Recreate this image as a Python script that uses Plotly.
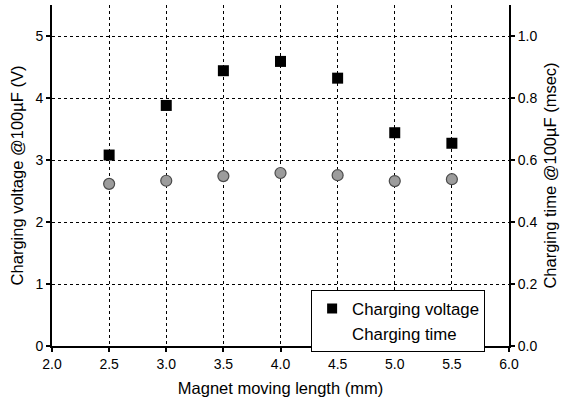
import plotly.graph_objects as go

lengths = [2.5, 3.0, 3.5, 4.0, 4.5, 5.0, 5.5]
voltage = [3.08, 3.88, 4.44, 4.59, 4.32, 3.44, 3.27]
charge_time = [0.523, 0.533, 0.548, 0.558, 0.551, 0.532, 0.538]

x_ticks = [2.0, 2.5, 3.0, 3.5, 4.0, 4.5, 5.0, 5.5, 6.0]
y_ticks = [0, 1, 2, 3, 4, 5]
y2_ticks = [0.0, 0.2, 0.4, 0.6, 0.8, 1.0]

font_family = "Liberation Sans, Arial, sans-serif"

fig = go.Figure()
fig.add_trace(go.Scatter(
    x=lengths, y=voltage, mode="markers", name="Charging voltage",
    marker=dict(symbol="square", size=11, color="black"), showlegend=False))
fig.add_trace(go.Scatter(
    x=lengths, y=charge_time, mode="markers", name="Charging time", yaxis="y2",
    marker=dict(symbol="circle", size=11, color="#9c9c9c",
                line=dict(color="#4a4a4a", width=1.2)), showlegend=False))
# legend entries
fig.add_trace(go.Scatter(x=[None], y=[None], mode="markers", name="Charging voltage",
                         marker=dict(symbol="square", size=10, color="black")))
fig.add_trace(go.Scatter(x=[None], y=[None], mode="markers", name="Charging time",
                         marker=dict(symbol="circle", size=10, color="white", opacity=0)))

axis_common = dict(showline=True, linecolor="black", linewidth=2,
                   ticks="outside", ticklen=4, tickwidth=1.5, tickcolor="black",
                   zeroline=False, automargin=False,
                   tickfont=dict(size=14, color="black"))

grid = dict(showgrid=True, gridcolor="black", griddash="dot", gridwidth=1)

fig.update_layout(
    width=564, height=401,
    margin=dict(l=52, r=55, t=5, b=55),
    paper_bgcolor="white", plot_bgcolor="white",
    font=dict(family=font_family, color="black"),
    xaxis=dict(range=[2.0, 6.0], tickvals=x_ticks, ticktext=[f"{v:.1f}" for v in x_ticks],
               title=dict(text="Magnet moving length (mm)", font=dict(size=16.5), standoff=12),
               **grid, **axis_common),
    yaxis=dict(range=[0, 5.5], tickvals=y_ticks, ticktext=[str(v) for v in y_ticks],
               title=dict(text="Charging voltage @100µF (V)", font=dict(size=16.5), standoff=8),
               **grid, **axis_common),
    yaxis2=dict(range=[0, 1.1], tickvals=y2_ticks, ticktext=[f"{v:.1f}" for v in y2_ticks],
                overlaying="y", side="right", showgrid=False,
                title=dict(text="Charging time @100µF (msec)", font=dict(size=16.5), standoff=8),
                **axis_common),
    legend=dict(x=0.567, y=0.164, xanchor="left", yanchor="top",
                bordercolor="black", borderwidth=1, bgcolor="white",
                font=dict(size=16.8), itemwidth=30, tracegroupgap=0),
)

fig.write_html("out.html", config={"displayModeBar": False},
               post_script="document.body.style.margin='0';")
